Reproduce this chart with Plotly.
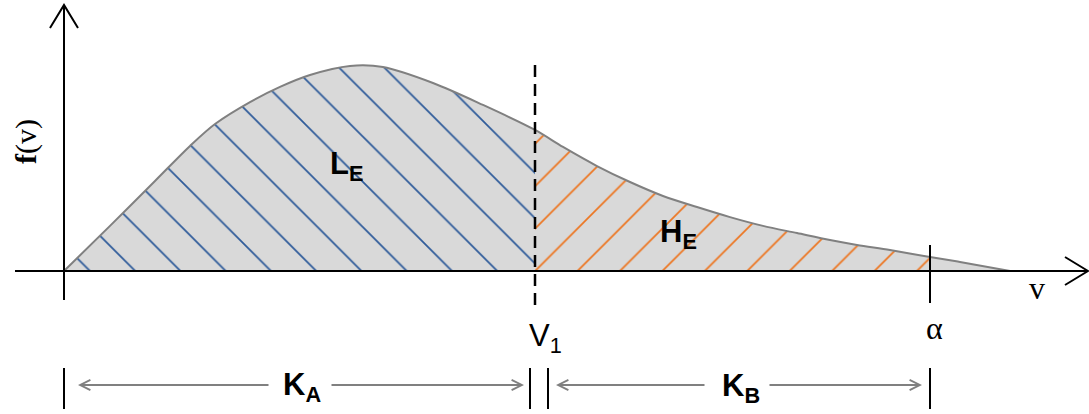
import plotly.graph_objects as go

# ---------------- data ----------------
v_values = [0, 0.46, 0.91, 1.26, 1.51, 1.86, 2.16, 2.46, 2.86, 3.19, 3.69, 4.19, 4.71,
            4.99, 5.33, 5.66, 5.99, 6.33, 6.66, 6.99, 7.33, 7.66, 7.93, 8.26, 8.66,
            8.96, 9.46]
f_values = [0, 0.220, 0.439, 0.610, 0.717, 0.824, 0.898, 0.956, 1.0, 0.995, 0.917, 0.810,
            0.688, 0.605, 0.512, 0.434, 0.366, 0.312, 0.263, 0.220, 0.185, 0.151, 0.127,
            0.102, 0.068, 0.044, 0.0]
v1_value = 4.71
alpha_value = 8.66
region_labels = ["L<sub>E</sub>", "H<sub>E</sub>"]
span_labels = ["K<sub>A</sub>", "K<sub>B</sub>"]
threshold_labels = ["V<sub>1</sub>", "α"]
axis_labels = ["<b>f</b>(v)", "v"]

# ---------------- geometry helpers (pixel -> data) ----------------
W, H = 1089, 414
OX, OY = 64, 271          # origin in pixels
SX, SY = 100.0, 205.0     # pixels per data unit


def X(px):
    return (px - OX) / SX


def Y(py):
    return (OY - py) / SY


i_v1 = v_values.index(v1_value)
i_al = v_values.index(alpha_value)

GRAY_FILL = "#d9d9d9"
OUTLINE = "#808080"
BLUE = "#2f5b9a"
ORANGE = "#ed7520"
SANS = "Liberation Sans, Arial, sans-serif"
SERIF = "Liberation Serif, Times New Roman, serif"
SMOOTH = 0.9

fig = go.Figure()

# gray area under the curve
fig.add_trace(go.Scatter(x=v_values, y=f_values, mode="lines", fill="tozeroy",
                         fillcolor=GRAY_FILL, line=dict(width=0, shape="spline", smoothing=SMOOTH),
                         hoverinfo="skip"))
# blue hatch (0 .. V1)
fig.add_trace(go.Scatter(x=v_values[:i_v1 + 1], y=f_values[:i_v1 + 1], mode="lines",
                         fill="tozeroy", fillcolor=GRAY_FILL,
                         fillpattern=dict(shape="\\", fgcolor=BLUE, bgcolor=GRAY_FILL,
                                          fgopacity=1, size=32, solidity=0.055),
                         line=dict(width=0, shape="spline", smoothing=SMOOTH), hoverinfo="skip"))
# orange hatch (V1 .. alpha)
fig.add_trace(go.Scatter(x=v_values[i_v1:i_al + 1], y=f_values[i_v1:i_al + 1], mode="lines",
                         fill="tozeroy", fillcolor=GRAY_FILL,
                         fillpattern=dict(shape="/", fgcolor=ORANGE, bgcolor=GRAY_FILL,
                                          fgopacity=1, size=30, solidity=0.058),
                         line=dict(width=0, shape="spline", smoothing=SMOOTH), hoverinfo="skip"))
# curve outline
fig.add_trace(go.Scatter(x=v_values, y=f_values, mode="lines",
                         line=dict(color=OUTLINE, width=2, shape="spline", smoothing=SMOOTH),
                         hoverinfo="skip"))


def seg(xs, ys, color="black", width=2, dash=None):
    fig.add_trace(go.Scatter(x=xs, y=ys, mode="lines",
                             line=dict(color=color, width=width, dash=dash),
                             hoverinfo="skip"))


# axes with open chevron heads
seg([X(15), X(1087)], [0, 0])
seg([X(1065), X(1088), X(1065)], [Y(257), Y(271), Y(285)])
seg([0, 0], [Y(300), Y(5)])
seg([X(50), X(64), X(78)], [Y(28), Y(5), Y(28)])

# V1 dashed line and alpha marker
seg([v1_value, v1_value], [Y(65), Y(306)], width=2.5, dash="12px,7px")
seg([alpha_value, alpha_value], [Y(245), Y(303)])

# bottom span bars
bar_y = [Y(368), Y(409)]
for bx in [0, v1_value - 0.05, v1_value + 0.13, alpha_value]:
    seg([bx, bx], bar_y)

annotations = []
arr_y = Y(385)
arrows = [  # (head, tail)
    (X(78), X(270)), (X(524), X(330)),
    (X(556), X(706)), (X(922), X(768)),
]
for head, tail in arrows:
    annotations.append(dict(x=head, y=arr_y, ax=tail, ay=arr_y, xref="x", yref="y",
                            axref="x", ayref="y", text="", showarrow=True,
                            arrowhead=5, arrowsize=1, arrowwidth=2,
                            arrowcolor=OUTLINE, standoff=0, startstandoff=0))


def label(x, y, text, size, family=SANS, angle=0):
    annotations.append(dict(x=x, y=y, xref="x", yref="y", text=text, showarrow=False,
                            font=dict(family=family, size=size, color="black"),
                            textangle=angle, xanchor="center", yanchor="middle"))


label(X(346), Y(166), "<b>" + region_labels[0] + "</b>", 31)
label(X(678), Y(234), "<b>" + region_labels[1] + "</b>", 31)
label(X(302), Y(387), "<b>" + span_labels[0] + "</b>", 31)
label(X(741), Y(388), "<b>" + span_labels[1] + "</b>", 31)
label(X(545), Y(338), threshold_labels[0], 31)
label(X(934), Y(328), threshold_labels[1], 32, family=SERIF)
label(X(1037), Y(288), axis_labels[1], 32, family=SERIF)
label(X(26), Y(142), axis_labels[0], 30, family=SERIF, angle=-90)

fig.update_layout(
    width=W, height=H, margin=dict(l=0, r=0, t=0, b=0),
    paper_bgcolor="white", plot_bgcolor="white", showlegend=False,
    xaxis=dict(range=[X(0), X(W)], visible=False, fixedrange=True),
    yaxis=dict(range=[Y(H), Y(0)], visible=False, fixedrange=True),
    annotations=annotations,
)

fig.write_html("out.html", config={"displayModeBar": False},
               post_script="document.body.style.margin='0px';")
